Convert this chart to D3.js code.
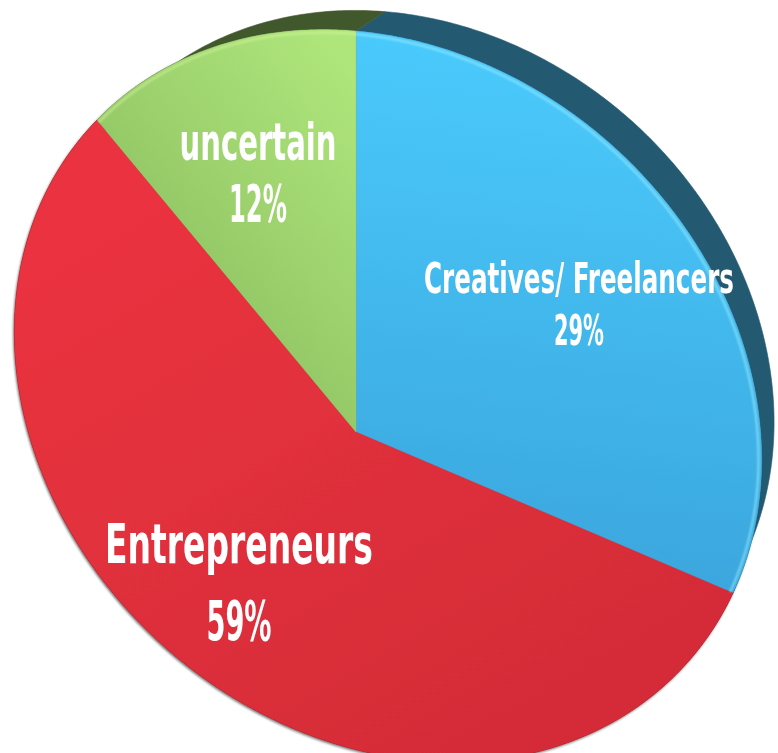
<!DOCTYPE html>
<html>
<head>
<meta charset="utf-8">
<script src="https://cdn.jsdelivr.net/npm/d3@7"></script>
<style>
  body { margin: 0; background: #fff; }
  svg { display: block; }
</style>
</head>
<body>
<svg></svg>
<script>
// chart data
let categories = ['Creatives/ Freelancers', 'Entrepreneurs', 'uncertain']
let values = [29, 59, 12]
let percentLabels = ['29%', '59%', '12%']

let width = 778
let height = 753

let faceColors = [['#4bcbfd', '#3aa5dc'], ['#ea333f', '#d52c38'], ['#afe67b', '#94c867']]
let sideColors = ['#235a72', '#7a1d23', '#41582d']

let svg = d3.select('svg').attr('width', width).attr('height', height)

let pie = d3.pie().sort(null).startAngle(0).endAngle(2 * Math.PI)
let arcs = pie(values)

// where the tilted pie's centre, top and slice edges land in the picture
let centrePt = [356, 432]
let topPt = [356, 31]
let edgePts = [[733, 593], [97, 120]]   // end of slice 0, end of slice 1

let unit = (a) => [Math.sin(a), -Math.cos(a)]

// solve a projective map (homography) from the flat unit disc to the picture
let solve = (A, b) => {
    let n = b.length
    for (let i = 0; i < n; i++) {
        let p = i
        for (let r = i + 1; r < n; r++) if (Math.abs(A[r][i]) > Math.abs(A[p][i])) p = r
        ;[A[i], A[p]] = [A[p], A[i]]
        ;[b[i], b[p]] = [b[p], b[i]]
        for (let r = i + 1; r < n; r++) {
            let f = A[r][i] / A[i][i]
            for (let c = i; c < n; c++) A[r][c] -= f * A[i][c]
            b[r] -= f * b[i]
        }
    }
    let x = new Array(n).fill(0)
    for (let i = n - 1; i >= 0; i--) {
        let s = b[i]
        for (let c = i + 1; c < n; c++) s -= A[i][c] * x[c]
        x[i] = s / A[i][i]
    }
    return x
}

let pairs = [
    [[0, 0], centrePt],
    [unit(0), topPt],
    [unit(arcs[0].endAngle), edgePts[0]],
    [unit(arcs[1].endAngle), edgePts[1]]
]
let A = [], b = []
pairs.forEach(([[u, v], [x, y]]) => {
    A.push([u, v, 1, 0, 0, 0, -u * x, -v * x]); b.push(x)
    A.push([0, 0, 0, u, v, 1, -u * y, -v * y]); b.push(y)
})
let h = solve(A, b)

let project = (u, v) => {
    let w = h[6] * u + h[7] * v + 1
    return [(h[0] * u + h[1] * v + h[2]) / w, (h[3] * u + h[4] * v + h[5]) / w, w]
}

// depth of the disc: points recede toward a vanishing point
let vanish = [1076, -449]
let backTop = [385, 11]
let wTop = project(0, -1)[2]
let lamTop = (backTop[0] - topPt[0]) / (vanish[0] - topPt[0])
let qw = lamTop * wTop / (1 - lamTop)

let back = (u, v) => {
    let [x, y, w] = project(u, v)
    let lam = qw / (w + qw)
    return [x + lam * (vanish[0] - x), y + lam * (vanish[1] - y)]
}

let arcSamples = (d) => {
    let n = Math.ceil((d.endAngle - d.startAngle) / 0.01)
    return d3.range(n + 1).map(i => d.startAngle + (d.endAngle - d.startAngle) * i / n)
}

let line = d3.line()

let defs = svg.append('defs')

let shadow = defs.append('filter').attr('id', 'shadow')
    .attr('x', '-5%').attr('y', '-5%').attr('width', '110%').attr('height', '110%')
shadow.append('feDropShadow').attr('dx', -1).attr('dy', 1.5)
    .attr('stdDeviation', 1.2).attr('flood-color', '#000').attr('flood-opacity', 0.55)

let blur = defs.append('filter').attr('id', 'blur')
blur.append('feGaussianBlur').attr('stdDeviation', 1.2)

let gradEnds = [
    [[620, 40], [560, 600]],
    [[150, 200], [470, 740]],
    [[330, 40], [140, 200]]
]
arcs.forEach((d, i) => {
    let g = defs.append('linearGradient').attr('id', 'face' + i)
        .attr('gradientUnits', 'userSpaceOnUse')
        .attr('x1', gradEnds[i][0][0]).attr('y1', gradEnds[i][0][1])
        .attr('x2', gradEnds[i][1][0]).attr('y2', gradEnds[i][1][1])
    g.append('stop').attr('offset', 0).attr('stop-color', faceColors[i][0])
    g.append('stop').attr('offset', 1).attr('stop-color', faceColors[i][1])
})

// side of the disc
svg.append('g').selectAll('path')
    .data(arcs)
    .enter()
    .append('path')
    .attr('d', (d) => {
        let angles = arcSamples(d)
        let front = angles.map(a => project(...unit(a)).slice(0, 2))
        let rear = angles.map(a => back(...unit(a))).reverse()
        return line(front.concat(rear)) + 'Z'
    })
    .attr('fill', (d, i) => sideColors[i])
    .attr('stroke', (d, i) => sideColors[i])
    .attr('stroke-width', 0.6)

// top face of the disc
let faces = svg.append('g').attr('filter', 'url(#shadow)')
faces.selectAll('path')
    .data(arcs)
    .enter()
    .append('path')
    .attr('d', (d) => {
        let pts = [project(0, 0).slice(0, 2)]
        arcSamples(d).forEach(a => pts.push(project(...unit(a)).slice(0, 2)))
        return line(pts) + 'Z'
    })
    .attr('fill', (d, i) => 'url(#face' + i + ')')
    .attr('stroke', (d, i) => faceColors[i][1])
    .attr('stroke-width', 0.4)

// soft highlight on the upper rim
svg.append('g').attr('filter', 'url(#blur)').selectAll('path')
    .data([arcs[0], arcs[2]])
    .enter()
    .append('path')
    .attr('d', (d) => {
        let pts = arcSamples(d).map(a => project(...unit(a).map(c => c * 0.993)).slice(0, 2))
        return line(pts)
    })
    .attr('fill', 'none')
    .attr('stroke', (d, i) => i === 0 ? '#9cefff' : '#d2f59c')
    .attr('stroke-width', 2)
    .attr('opacity', 0.7)

// labels: centre x, baselines, font size and the width each line spans
let labelLayout = [
    { x: 579, y1: 293, y2: 345, size: 42, w1: 310, w2: 50 },
    { x: 239, y1: 563, y2: 640, size: 55, w1: 268, w2: 65 },
    { x: 258, y1: 160, y2: 222, size: 51, w1: 157, w2: 58 }
]

let labels = svg.append('g')
    .style('font-family', '"Liberation Sans Narrow", "DejaVu Sans Condensed", "Roboto", sans-serif')
    .style('font-weight', 'bold')
    .attr('fill', '#fff')
    .attr('text-anchor', 'middle')

let addLine = (txt, x, y, size, w) => {
    let t = labels.append('text')
        .attr('font-size', size)
        .text(txt)
    let natural = t.node().getComputedTextLength()
    t.attr('transform', 'translate(' + x + ',' + y + ') scale(' + (w / natural) + ',1)')
}

categories.forEach((c, i) => {
    let L = labelLayout[i]
    addLine(c, L.x, L.y1, L.size, L.w1)
    addLine(percentLabels[i], L.x, L.y2, L.size, L.w2)
})
</script>
</body>
</html>
